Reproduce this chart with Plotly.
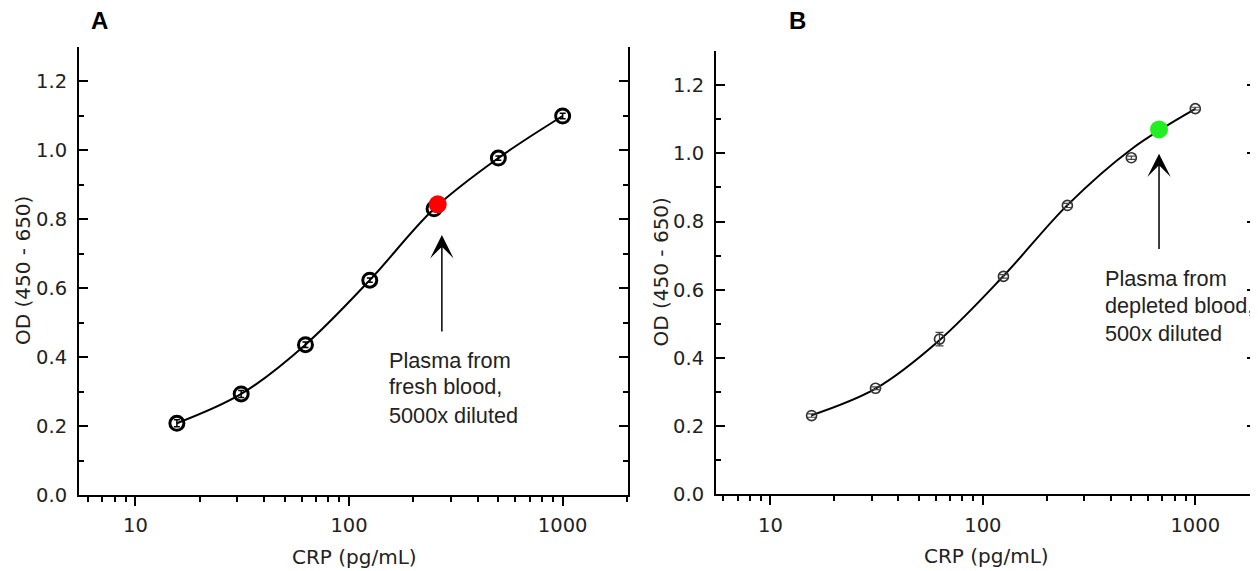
import numpy as np
import plotly.graph_objects as go

# ---------------- data ----------------
conc = [15.625, 31.25, 62.5, 125, 250, 500, 1000]          # CRP (pg/mL)

od_A = [0.208, 0.293, 0.436, 0.623, 0.830, 0.977, 1.099]   # panel A standards
err_A = [0.010, 0.010, 0.008, 0.006, 0.008, 0.006, 0.008]
fit_A = [0.208, 0.293, 0.436, 0.623, 0.830, 0.977, 1.099]  # fitted curve (through standards)

od_B = [0.231, 0.311, 0.455, 0.639, 0.847, 0.987, 1.131]   # panel B standards
err_B = [0.005, 0.004, 0.020, 0.005, 0.006, 0.005, 0.004]
fit_B = [0.232, 0.310, 0.452, 0.640, 0.848, 1.012, 1.130]  # fitted curve

sample_A_x, sample_A_y = [260], [0.843]      # red: plasma from fresh blood
sample_B_x, sample_B_y = [675], [1.070]      # green: plasma from depleted blood

arrow_A = dict(x=272, tip=0.754, tail=0.470)
arrow_B = dict(x=675, tip=0.999, tail=0.715)

note_A_x = 150
note_A_lines = ["Plasma from", "fresh blood,", "5000x diluted"]
note_A_y = [0.391, 0.314, 0.232]

note_B_x = 367
note_B_lines = ["Plasma from", "depleted blood,", "500x diluted"]
note_B_y = [0.632, 0.554, 0.472]

x_major = [10, 100, 1000]
x_minor = [6, 7, 8, 9, 20, 30, 40, 50, 60, 70, 80, 90,
           200, 300, 400, 500, 600, 700, 800, 900, 2000]
y_major = [0, 0.2, 0.4, 0.6, 0.8, 1.0, 1.2]

x_title = "CRP (pg/mL)"
y_title = "OD (450 - 650)"

# ---------------- styling ----------------
TICK_FONT = dict(family="DejaVu Sans", size=19.5, color="#222222")
TITLE_FONT = dict(family="DejaVu Sans", size=20, color="#222222")
NOTE_FONT = dict(family="Liberation Sans, Arial, sans-serif", size=21.7, color="#222222")
PANEL_FONT = dict(family="Liberation Sans, Arial, sans-serif", size=24, color="black")

# the page body has an 8px default margin; the figure fills the rest of the window
OFF = 8
W, H = 1258 - OFF, 571 - OFF


def px(xp):
    return (xp - OFF) / W


def py(yp):
    return 1 - (yp - OFF) / H


fig = go.Figure()

# Panel A
fig.add_trace(go.Scatter(x=conc, y=fit_A, mode="lines", line=dict(color="black", width=2, shape="spline"),
                         xaxis="x", yaxis="y", showlegend=False, hoverinfo="skip"))
fig.add_trace(go.Scatter(x=conc, y=od_A, mode="markers",
                         marker=dict(symbol="circle-open", size=14, color="black", line=dict(width=3)),
                         error_y=dict(type="data", array=err_A, color="black", thickness=1.5, width=3),
                         xaxis="x", yaxis="y", showlegend=False))
fig.add_trace(go.Scatter(x=sample_A_x, y=sample_A_y, mode="markers",
                         marker=dict(symbol="circle", size=18, color="#ff0000"),
                         xaxis="x", yaxis="y", showlegend=False))

# Panel B
fig.add_trace(go.Scatter(x=conc, y=fit_B, mode="lines", line=dict(color="black", width=2, shape="spline"),
                         xaxis="x2", yaxis="y2", showlegend=False, hoverinfo="skip"))
fig.add_trace(go.Scatter(x=conc, y=od_B, mode="markers",
                         marker=dict(symbol="circle-open", size=10, color="#333333", line=dict(width=1.7)),
                         error_y=dict(type="data", array=err_B, color="#444444", thickness=1.2, width=4),
                         xaxis="x2", yaxis="y2", showlegend=False))
fig.add_trace(go.Scatter(x=sample_B_x, y=sample_B_y, mode="markers",
                         marker=dict(symbol="circle", size=18, color="#22ee22"),
                         xaxis="x2", yaxis="y2", showlegend=False))


def x_axis(domain, rng, anchor):
    return dict(domain=domain, type="log", range=rng, anchor=anchor, automargin=False,
                showline=True, linecolor="black", linewidth=2,
                ticks="outside", ticklen=9, tickwidth=1.5, tickcolor="black",
                tickmode="array", tickvals=x_major, ticktext=[str(v) for v in x_major],
                minor=dict(tickmode="array", tickvals=x_minor, ticks="outside", ticklen=5,
                           tickwidth=1.5, tickcolor="black"),
                showgrid=False, zeroline=False, tickfont=TICK_FONT, ticklabelstandoff=3)


def x_top(overlay, rng, anchor):
    return dict(overlaying=overlay, anchor=anchor, side="top", type="log", range=rng,
                automargin=False,
                showline=True, linecolor="black", linewidth=2,
                ticks="inside", ticklen=9, tickwidth=1.5, tickcolor="black",
                tickmode="array", tickvals=x_major, showticklabels=False,
                minor=dict(tickmode="array", tickvals=x_minor, ticks="inside", ticklen=5,
                           tickwidth=1.5, tickcolor="black"),
                showgrid=False, zeroline=False)


def y_axis(domain, anchor):
    return dict(domain=domain, range=[0, 1.30], anchor=anchor, automargin=False,
                showline=True, linecolor="black", linewidth=2, mirror="allticks",
                ticks="inside", ticklen=9, tickwidth=1.5, tickcolor="black",
                tickmode="array", tickvals=y_major, tickformat=".1f",
                minor=dict(dtick=0.1, tick0=0, ticks="inside", ticklen=5, tickwidth=1.5,
                           tickcolor="black"),
                showgrid=False, zeroline=False, tickfont=TICK_FONT, ticklabelstandoff=6)


rng_A = [0.7355, 3.306]
rng_B = [0.7439, 3.2858]

fig.update_layout(
    width=W, height=H,
    margin=dict(l=0, r=0, t=0, b=0, autoexpand=False),
    paper_bgcolor="white", plot_bgcolor="white",
    xaxis=x_axis([px(79), px(628)], rng_A, "y"),
    yaxis=y_axis([py(495), py(46.7)], "x"),
    xaxis2=x_axis([px(716), px(1256)], rng_B, "y2"),
    yaxis2=y_axis([py(494.3), py(51)], "x2"),
    xaxis3=x_top("x", rng_A, "y"),
    xaxis4=x_top("x2", rng_B, "y2"),
)

annotations = []
# panel letters
annotations.append(dict(text="<b>A</b>", x=px(99), y=py(20), xref="paper", yref="paper",
                        showarrow=False, font=PANEL_FONT, xanchor="center", yanchor="middle"))
annotations.append(dict(text="<b>B</b>", x=px(797), y=py(20), xref="paper", yref="paper",
                        showarrow=False, font=PANEL_FONT, xanchor="center", yanchor="middle"))

# axis titles
for cx, cy in [(354.5, 557), (986, 556)]:
    annotations.append(dict(text=x_title, x=px(cx), y=py(cy), xref="paper", yref="paper",
                            showarrow=False, font=TITLE_FONT, xanchor="center", yanchor="middle"))
for cx, cy in [(23, 271), (661, 272.5)]:
    annotations.append(dict(text=y_title, x=px(cx), y=py(cy), xref="paper", yref="paper",
                            showarrow=False, font=TITLE_FONT, textangle=-90,
                            xanchor="center", yanchor="middle"))

# arrows (log axes: annotation x in log10 units)
for arr, xr, yr in [(arrow_A, "x", "y"), (arrow_B, "x2", "y2")]:
    lx = float(np.log10(arr["x"]))
    annotations.append(dict(x=lx, y=arr["tip"], ax=lx, ay=arr["tail"], xref=xr, yref=yr,
                            axref=xr, ayref=yr, text="", showarrow=True,
                            arrowhead=3, arrowsize=2.6, arrowwidth=1.5, arrowcolor="black"))

# notes
for lines, ys, nx, xr, yr in [(note_A_lines, note_A_y, note_A_x, "x", "y"),
                              (note_B_lines, note_B_y, note_B_x, "x2", "y2")]:
    for t, yy in zip(lines, ys):
        annotations.append(dict(text=t, x=float(np.log10(nx)), y=yy, xref=xr, yref=yr,
                                showarrow=False, xanchor="left", yanchor="middle", font=NOTE_FONT))

fig.update_layout(annotations=annotations)

fig.write_html("out.html")
